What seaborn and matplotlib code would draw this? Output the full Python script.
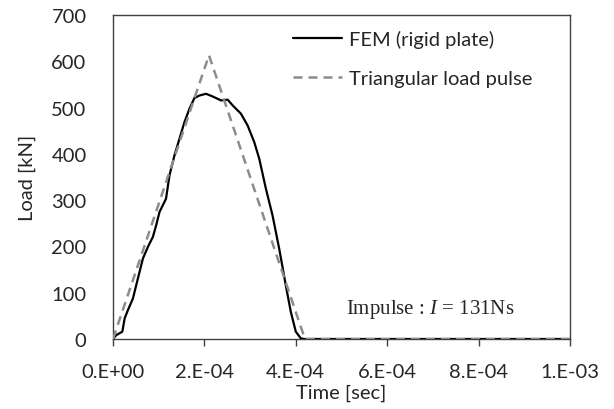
import numpy as np
import pandas as pd
import matplotlib
matplotlib.use("Agg")
import matplotlib.pyplot as plt
import seaborn as sns

# FEM (rigid plate) series
fem_time = [0, 7.3e-6, 20.4e-6, 25.5e-6, 32.7e-6, 43.6e-6, 54.5e-6, 65.5e-6, 76.4e-6, 87.3e-6,
            94.5e-6, 101.8e-6, 116e-6, 123.6e-6, 134.5e-6, 145.5e-6, 156.4e-6, 167.3e-6, 178e-6,
            189e-6, 203.6e-6, 218e-6, 236.4e-6, 251e-6, 261.8e-6, 280e-6, 294.5e-6, 309e-6,
            320e-6, 334.5e-6, 349e-6, 363.6e-6, 378e-6, 389e-6, 400e-6, 411e-6, 418e-6, 1.0e-3]
fem_load = [0, 8.6, 15.8, 44.6, 62.5, 87.7, 130.8, 174, 199, 220.7,
            245.9, 274.6, 303, 353.7, 396.8, 432.8, 468.7, 497.5, 520.5,
            526, 529.8, 524, 515.5, 517, 504.7, 486.7, 461.5, 425.6,
            389.6, 325, 267.4, 195.5, 116.5, 59, 15.8, 1.4, 0, 0]

# Triangular load pulse
tri_time = [0, 2.1e-4, 4.2e-4, 1.0e-3]
tri_load = [0, 613, 0, 0]

x_ticks = [0, 2e-4, 4e-4, 6e-4, 8e-4, 1e-3]
x_tick_labels = ["0.E+00", "2.E-04", "4.E-04", "6.E-04", "8.E-04", "1.E-03"]
y_ticks = [0, 100, 200, 300, 400, 500, 600, 700]

sns.set_style("white")
plt.rcParams['font.family'] = ['Lato', 'DejaVu Sans']
plt.rcParams['mathtext.fontset'] = 'custom'
plt.rcParams['mathtext.rm'] = 'Liberation Serif'
plt.rcParams['mathtext.it'] = 'Liberation Serif:italic'

FS = 14.5

fig = plt.figure(figsize=(6.14, 4.10), dpi=100)
ax = fig.add_axes([113/614, 70/410, 457/614, 324/410])

df_fem = pd.DataFrame({"t": fem_time, "load": fem_load})
df_tri = pd.DataFrame({"t": tri_time, "load": tri_load})

sns.lineplot(data=df_fem, x="t", y="load", ax=ax, color="black", linewidth=1.6,
             label="FEM (rigid plate)", zorder=3)
sns.lineplot(data=df_tri, x="t", y="load", ax=ax, color="#8c8c8c", linewidth=1.8,
             label="Triangular load pulse", zorder=4)
ax.lines[1].set_dashes((3.6, 2.4))

ax.set_xlim(0, 1e-3)
ax.set_ylim(0, 700)
ax.set_xticks(x_ticks)
ax.set_xticklabels(x_tick_labels)
ax.set_yticks(y_ticks)
ax.tick_params(axis='x', direction='out', length=5, width=1, color='#404040',
               labelsize=FS, pad=12, bottom=True)
ax.tick_params(axis='y', length=0, labelsize=FS, pad=19)
for s in ax.spines.values():
    s.set_color('#404040')
    s.set_linewidth(1.0)
    s.set_visible(True)

ax.set_xlabel("Time [sec]", fontsize=FS, labelpad=3)
ax.set_ylabel("Load [kN]", fontsize=FS, labelpad=11)

leg = ax.legend(loc='upper left', bbox_to_anchor=(0.394, 0.955), frameon=False,
                fontsize=FS, handlelength=2.45, handletextpad=0.33, labelspacing=1.1,
                borderpad=0, borderaxespad=0)

ax.text(0.509, 0.093, r"Impulse : $I$ = 131Ns", transform=ax.transAxes,
        fontsize=15, family='Liberation Serif', va='center', ha='left')

fig.savefig("out.png", dpi=100)
